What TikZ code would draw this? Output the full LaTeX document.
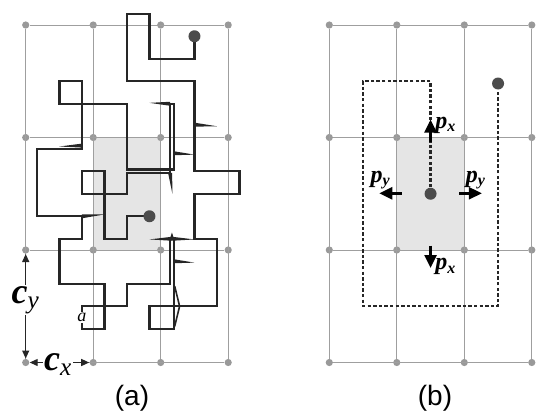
\documentclass[tikz,border=0pt]{standalone}
\usepackage{fontspec}
\setmainfont{Liberation Serif}
\newfontfamily\capfont{Liberation Sans}
\usetikzlibrary{arrows.meta, calc}

% thin wedge for a step that is taken and undone at once
\newcommand{\walkspike}[3][1pt]{%
  \fill[spike] ($(#2)!#1!90:(#3)$) -- (#3) -- ($(#2)!#1!-90:(#3)$) -- cycle;}

\begin{document}
\begin{tikzpicture}[
  x = 0.5pt, y = -0.5pt,
  fine/.style = {x=11.25pt, y=-11.25pt},
  gridline/.style = {draw=gray!75, line width=0.5pt},
  gdot/.style = {circle, fill=gray!80, inner sep=0pt, minimum size=3.6pt},
  cell/.style = {fill=gray!20},
  walk/.style = {draw=black!85, line width=1.2pt, line join=miter},
  spike/.style = {fill=black!85},
  bead/.style = {circle, fill=black!70, inner sep=0pt, minimum size=6pt},
  size/.style = {{Triangle[length=4pt, width=3.5pt]}-{Triangle[length=4pt, width=3.5pt]}, draw=black!85, line width=0.6pt},
  parr/.style = {-{Triangle[length=6.5pt, width=6pt]}, draw=black, line width=1.2pt},
  clab/.style = {font={\fontsize{18}{18}\selectfont\bfseries\itshape}, fill=white, inner sep=0.5pt},
  plab/.style = {font={\fontsize{12}{12}\selectfont\bfseries\itshape}, inner sep=0.5pt},
  captext/.style = {font={\capfont\fontsize{14}{16}\selectfont}}
]
\useasboundingbox (0,0) rectangle (545,413);

% (a) the walk
\begin{scope}[shift={(25.7,25)}, fine]
  \fill[cell] (3,5) rectangle (6,10);
  \foreach \k in {0,...,3}
    \foreach \m in {0,...,3}
      \node[gdot] (a\k\m) at (3*\k,5*\m) {};
  \foreach \k in {0,...,3} {
    \draw[gridline] (a\k0) -- (a\k3);
    \draw[gridline] (a0\k) -- (a3\k);
  }

  \begin{scope}[shift={(0.5,-0.5)}]
    \draw[walk] (7,1) -- (7,2) -- (5,2) -- (5,0) -- (4,0) -- (4,3) -- (7,3)
      -- (7,7) -- (9,7) -- (9,8) -- (7,8) -- (7,10) -- (8,10) -- (8,13)
      -- (5,13) -- (5,14) -- (6.08,14) -- (6.08,10) -- (5.92,10) -- (5.92,12)
      -- (4,12) -- (4,13) -- (2,13) -- (2,14) -- (3,14) -- (3,12) -- (1,12)
      -- (1,10) -- (2,10) -- (2,9) -- (0,9) -- (0,6) -- (2,6) -- (2,3)
      -- (1,3) -- (1,4) -- (4,4) -- (4,6.92) -- (6.08,6.92) -- (6.08,4)
      -- (5.92,4) -- (5.92,7.08) -- (4,7.08) -- (4,8) -- (2,8) -- (2,7)
      -- (3,7) -- (3,10) -- (4,10) -- (4,9) -- (5,9);
    \walkspike{7,4.93}{8,5}
    \walkspike{2,5.86}{1,5.9}
    \walkspike{2,9}{3,8.92}
    \walkspike{5.92,4}{5,3.96}
    \walkspike{6.08,6.2}{7,6.26}
    \walkspike{5.92,7.08}{6.02,8}
    \walkspike{6,10}{5,10.03}
    \walkspike{6,10}{7,10.03}
    \walkspike{6,10}{6,9.72}
    \walkspike{6.08,11}{7,11.06}
    \draw[walk, line width=0.8pt] (6.12,12.1) -- (6.34,13) -- (6.12,13.9);
    \node[fill=white, inner sep=0.6pt, font=\fontsize{9}{9}\selectfont\itshape] (alab) at (2,13.5) {a};
    \node[bead] (start) at (7,1) {};
    \node[bead] (home) at (5,9) {};
  \end{scope}

  \draw[size] (a02) -- node[clab, pos=0.44] (cy) {c\textsubscript{\mdseries y}} (a03);
  \draw[size] (a03) -- node[clab, pos=0.48, yshift=-1pt] (cx) {c\textsubscript{\mdseries x}} (a13);
\end{scope}

% (b) the shortcut and the moves
\begin{scope}[shift={(329.3,25)}, fine]
  \fill[cell] (3,5) rectangle (6,10);
  \foreach \k in {0,...,3}
    \foreach \m in {0,...,3}
      \node[gdot] (b\k\m) at (3*\k,5*\m) {};
  \foreach \k in {0,...,3} {
    \draw[gridline] (b\k0) -- (b\k3);
    \draw[gridline] (b0\k) -- (b3\k);
  }

  \begin{scope}[shift={(0.5,-0.5)}]
    \node[bead] (bhome) at (4,8) {};
    \node[bead] (bgoal) at (7,3.1) {};
    \draw[walk, dash pattern=on 1.7pt off 1.1pt] (bhome) -- (4,3) -- (1,3)
      -- (1,13) -- (7,13) -- (bgoal);

    \coordinate (up0) at (4,5.7);
    \coordinate (up1) at (4,4.7);
    \coordinate (dn0) at (4,10.3);
    \coordinate (dn1) at (4,11.3);
    \coordinate (lf0) at (2.72,7.98);
    \coordinate (lf1) at (1.72,7.98);
    \coordinate (rt0) at (5.28,7.98);
    \coordinate (rt1) at (6.28,7.98);
    \draw[parr] (up0) -- (up1);
    \draw[parr] (dn0) -- (dn1);
    \draw[parr] (lf0) -- (lf1);
    \draw[parr] (rt0) -- (rt1);
    \node[plab] (pxup) at (4.68,4.95) {p\textsubscript{x}};
    \node[plab] (pxdn) at (4.68,11.25) {p\textsubscript{x}};
    \node[plab] (pylf) at (1.78,7.4) {p\textsubscript{y}};
    \node[plab] (pyrt) at (6.02,7.4) {p\textsubscript{y}};
  \end{scope}
\end{scope}

\node[captext] (capa) at (132,398) {(a)};
\node[captext] (capb) at (435,398) {(b)};
\end{tikzpicture}
\end{document}
